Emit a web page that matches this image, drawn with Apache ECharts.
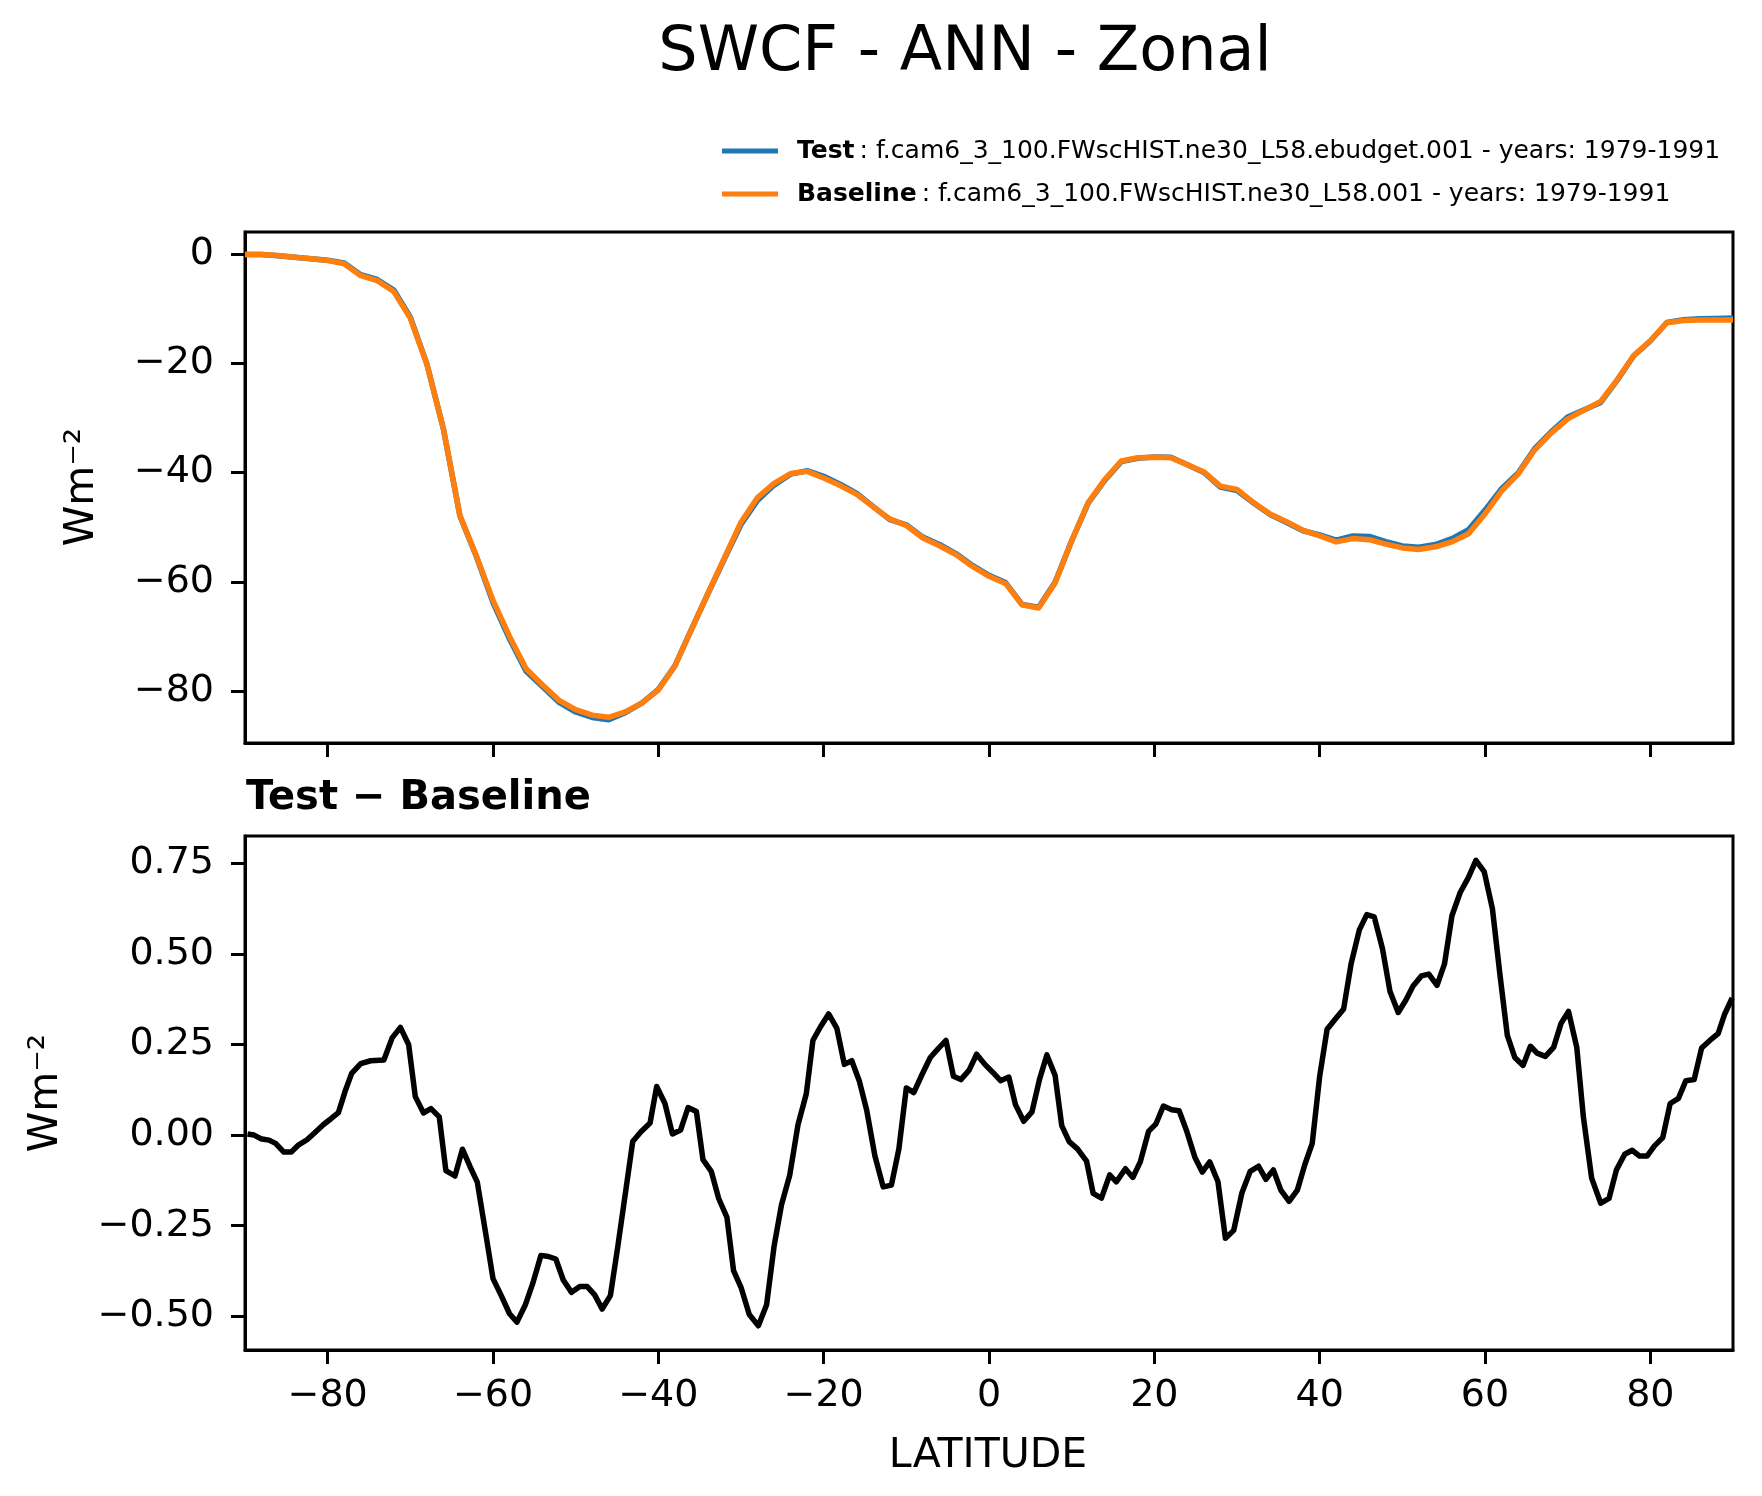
<!DOCTYPE html>
<html>
<head>
<meta charset="utf-8">
<title>SWCF - ANN - Zonal</title>
<script src="https://cdn.jsdelivr.net/npm/echarts@6.0.0/dist/echarts.min.js"></script>
<style>
html, body { margin: 0; padding: 0; background: #fff; }
#main { width: 1762px; height: 1496px; }
</style>
</head>
<body>
<div id="main"></div>
<script>
// 刻度
var xTicks = [-80, -60, -40, -20, 0, 20, 40, 60, 80];
var zonalTicks = [-80, -60, -40, -20, 0];
var diffTicks = [-0.5, -0.25, 0, 0.25, 0.5, 0.75];

// 上图: 纬向平均 (2度)
var zonalLat = [-90, -88, -86, -84, -82, -80, -78, -76, -74, -72, -70, -68, -66, -64, -62, -60,
    -58, -56, -54, -52, -50, -48, -46, -44, -42, -40, -38, -36, -34, -32, -30, -28, -26, -24,
    -22, -20, -18, -16, -14, -12, -10, -8, -6, -4, -2, 0, 2, 4, 6, 8, 10, 12, 14, 16, 18, 20,
    22, 24, 26, 28, 30, 32, 34, 36, 38, 40, 42, 44, 46, 48, 50, 52, 54, 56, 58, 60, 62, 64,
    66, 68, 70, 72, 74, 76, 78, 80, 82, 84, 86, 88, 90];
var testVal = [-0.1, -0.11, -0.33, -0.64, -0.9, -1.16, -1.68, -3.8, -4.69, -6.62, -11.58, -20.13,
    -32.05, -47.97, -55.42, -63.8, -70.49, -76.36, -79.23, -82.07, -83.83, -84.83, -85.25, -83.95,
    -82.19, -79.68, -75.39, -68.73, -62.19, -55.81, -49.52, -45.12, -42.31, -40.3, -39.68, -40.7,
    -42.15, -43.82, -46.27, -48.64, -49.57, -51.83, -53.16, -54.84, -57.0, -58.82, -60.14, -64.16,
    -64.65, -60.04, -52.52, -45.6, -41.45, -38.01, -37.39, -37.17, -37.23, -38.6, -40.0, -42.68,
    -43.32, -45.59, -47.7, -49.17, -50.67, -51.44, -52.38, -51.61, -51.7, -52.65, -53.45, -53.67,
    -53.18, -52.1, -50.49, -46.88, -42.99, -40.1, -35.66, -32.57, -29.86, -28.53, -27.19, -23.1,
    -18.64, -15.95, -12.56, -12.06, -11.88, -11.82, -11.72];
var baseVal = [-0.1, -0.1, -0.3, -0.6, -0.9, -1.2, -1.8, -4.0, -4.9, -6.9, -11.8, -20.2,
    -32.0, -47.9, -55.3, -63.4, -70.0, -75.9, -78.9, -81.7, -83.4, -84.4, -84.8, -83.8,
    -82.2, -79.8, -75.4, -68.8, -62.1, -55.6, -49.1, -44.6, -42.0, -40.2, -39.8, -41.0,
    -42.4, -44.0, -46.3, -48.5, -49.7, -52.0, -53.4, -55.0, -57.2, -59.0, -60.3, -64.2,
    -64.8, -60.2, -52.5, -45.5, -41.3, -37.9, -37.3, -37.2, -37.3, -38.6, -39.9, -42.5,
    -43.1, -45.5, -47.6, -49.0, -50.6, -51.6, -52.7, -52.1, -52.3, -53.1, -53.8, -54.1,
    -53.6, -52.7, -51.2, -47.6, -43.4, -40.3, -35.9, -32.8, -30.2, -28.6, -27.0, -23.0,
    -18.6, -15.9, -12.6, -12.2, -12.1, -12.1, -12.1];

// 下图: Test - Baseline
var diffLat = [-89.7, -88.9, -88.1, -87.1, -86.3, -85.3, -84.4, -83.5, -82.5, -81.5, -80.5, -79.6,
    -78.7, -77.9, -77.1, -76.0, -74.8, -73.2, -72.2, -71.2, -70.2, -69.4, -68.4, -67.5, -66.5,
    -65.7, -64.6, -63.7, -62.8, -61.9, -60.8, -60.0, -59.0, -58.0, -57.1, -56.1, -55.2, -54.2,
    -53.3, -52.4, -51.5, -50.5, -49.5, -48.6, -47.7, -46.8, -45.8, -44.9, -43.9, -43.1, -42.1,
    -41.0, -40.2, -39.2, -38.3, -37.3, -36.4, -35.4, -34.6, -33.6, -32.7, -31.7, -30.9, -30.0,
    -29.0, -27.9, -26.9, -26.0, -25.1, -24.1, -23.1, -22.1, -21.3, -20.4, -19.4, -18.4, -17.5,
    -16.6, -15.7, -14.8, -13.8, -12.8, -11.8, -10.9, -10.0, -9.1, -8.1, -7.1, -6.2, -5.2, -4.3,
    -3.4, -2.4, -1.5, -0.5, 0.5, 1.4, 2.4, 3.2, 4.2, 5.2, 6.1, 7.0, 8.0, 8.8, 9.7, 10.7, 11.8,
    12.6, 13.6, 14.6, 15.4, 16.5, 17.4, 18.3, 19.3, 20.2, 21.1, 22.1, 23.0, 23.9, 24.9, 25.8,
    26.7, 27.7, 28.6, 29.6, 30.6, 31.6, 32.6, 33.5, 34.4, 35.3, 36.3, 37.3, 38.2, 39.1, 40.0,
    40.9, 41.9, 42.9, 43.8, 44.8, 45.7, 46.6, 47.6, 48.5, 49.5, 50.4, 51.3, 52.3, 53.2, 54.2,
    55.1, 56.0, 57.0, 58.0, 58.9, 59.9, 60.9, 61.8, 62.7, 63.6, 64.6, 65.5, 66.3, 67.3, 68.3,
    69.2, 70.1, 71.1, 71.9, 72.9, 74.0, 75.0, 75.9, 76.9, 77.8, 78.7, 79.6, 80.5, 81.5, 82.4,
    83.4, 84.3, 85.3, 86.2, 87.2, 88.2, 89.0, 89.9];
var diffVal = [0.003, 0.0, -0.01, -0.014, -0.023, -0.047, -0.047, -0.027, -0.013, 0.008, 0.029, 0.045,
    0.062, 0.12, 0.17, 0.197, 0.205, 0.207, 0.268, 0.297, 0.249, 0.106, 0.061, 0.073, 0.05,
    -0.098, -0.113, -0.039, -0.086, -0.13, -0.283, -0.396, -0.443, -0.493, -0.516, -0.469, -0.41, -0.332,
    -0.335, -0.342, -0.40, -0.434, -0.418, -0.418, -0.441, -0.48, -0.443, -0.307, -0.147, -0.018, 0.009,
    0.033, 0.134, 0.087, 0.003, 0.014, 0.076, 0.065, -0.068, -0.10, -0.175, -0.227, -0.374, -0.42,
    -0.495, -0.526, -0.468, -0.307, -0.192, -0.11, 0.029, 0.114, 0.261, 0.298, 0.334, 0.294, 0.195,
    0.205, 0.15, 0.069, -0.058, -0.143, -0.138, -0.038, 0.13, 0.117, 0.167, 0.214, 0.237, 0.261, 0.162,
    0.153, 0.179, 0.223, 0.195, 0.172, 0.15, 0.16, 0.084, 0.038, 0.064, 0.153, 0.221, 0.164, 0.026, -0.018, -0.038, -0.072,
    -0.161, -0.174, -0.11, -0.129, -0.093, -0.117, -0.074, 0.01, 0.031, 0.08, 0.07, 0.067, 0.012, -0.061, -0.102,
    -0.074, -0.129, -0.285, -0.263, -0.159, -0.10, -0.086, -0.122, -0.096, -0.152, -0.183, -0.152, -0.082, -0.023, 0.162,
    0.292, 0.32, 0.348, 0.472, 0.566, 0.608, 0.602, 0.514, 0.397, 0.338, 0.371, 0.411, 0.439, 0.444, 0.413,
    0.472, 0.605, 0.669, 0.711, 0.758, 0.727, 0.624, 0.444, 0.275, 0.214, 0.192, 0.245, 0.226, 0.217, 0.242,
    0.308, 0.341, 0.242, 0.05, -0.119, -0.188, -0.175, -0.096, -0.053, -0.042, -0.058, -0.058, -0.03, -0.007, 0.087,
    0.101, 0.15, 0.153, 0.24, 0.261, 0.28, 0.334, 0.378];

var testLabel = 'f.cam6_3_100.FWscHIST.ne30_L58.ebudget.001 - years: 1979-1991';
var baseLabel = 'f.cam6_3_100.FWscHIST.ne30_L58.001 - years: 1979-1991';

var FONT = '"DejaVu Sans", sans-serif';

initChart();

function initChart() {
    var myChart = echarts.init(document.getElementById('main'), null, {renderer: 'canvas'});
    myChart.setOption(buildOption());
}

function pairs(xs, ys) {
    var out = [];
    for (var i = 0; i < xs.length; i++) {
        out.push([xs[i], ys[i]]);
    }
    return out;
}

function minus(v) {
    return String(v).replace('-', '\u2212');
}

// 坐标轴公共样式
function xAxisOf(gridIndex, showLabel) {
    return {
        type: 'value',
        gridIndex: gridIndex,
        min: -90,
        max: 90,
        axisLine: {show: true, onZero: false, lineStyle: {color: '#000', width: 3}},
        axisTick: {show: true, customValues: xTicks, length: 14, lineStyle: {color: '#000', width: 3}},
        axisLabel: {
            show: showLabel,
            customValues: xTicks,
            margin: 27,
            color: '#000',
            fontSize: 38,
            fontFamily: FONT,
            formatter: function (v) { return minus(v); }
        },
        splitLine: {show: false}
    };
}

function yAxisOf(gridIndex, min, max, ticks, fmt) {
    return {
        type: 'value',
        gridIndex: gridIndex,
        min: min,
        max: max,
        axisLine: {show: true, onZero: false, lineStyle: {color: '#000', width: 3}},
        axisTick: {show: true, customValues: ticks, length: 14, lineStyle: {color: '#000', width: 3}},
        axisLabel: {
            customValues: ticks,
            margin: 31,
            color: '#000',
            fontSize: 38,
            fontFamily: FONT,
            formatter: fmt
        },
        splitLine: {show: false}
    };
}

function legendOf(name, top, text) {
    return {
        data: [name],
        left: 722,
        top: top,
        orient: 'vertical',
        padding: 0,
        icon: 'rect',
        itemWidth: 56,
        itemHeight: 5,
        selectedMode: false,
        formatter: function () { return '{g|}{b|' + name + '}\u2009: ' + text; },
        textStyle: {
            color: '#000',
            fontSize: 25,
            lineHeight: 30,
            fontFamily: FONT,
            rich: {
                g: {width: 14},
                b: {fontWeight: 'bold', fontSize: 25, lineHeight: 30, fontFamily: FONT, color: '#000'}
            }
        }
    };
}

function buildOption() {
    return {
        animation: false,
        backgroundColor: '#fff',
        grid: [
            {left: 245, top: 232, width: 1488, height: 511, show: true, borderColor: '#000', borderWidth: 3},
            {left: 245, top: 836, width: 1488, height: 514, show: true, borderColor: '#000', borderWidth: 3}
        ],
        legend: [
            legendOf('Test', 136, testLabel),
            legendOf('Baseline', 179, baseLabel)
        ],
        xAxis: [xAxisOf(0, false), xAxisOf(1, true)],
        yAxis: [
            yAxisOf(0, -89.5, 4, zonalTicks, function (v) { return minus(v); }),
            yAxisOf(1, -0.593, 0.825, diffTicks, function (v) { return minus(v.toFixed(2)); })
        ],
        graphic: [
            {type: 'text', x: 965, y: 54, style: {text: 'SWCF - ANN - Zonal', font: '62px ' + FONT, fill: '#000', textAlign: 'center', textVerticalAlign: 'middle'}},
            {type: 'text', x: 246, y: 799, style: {text: 'Test \u2212 Baseline', font: 'bold 40px ' + FONT, fill: '#000', textAlign: 'left', textVerticalAlign: 'middle'}},
            {type: 'text', x: 988, y: 1456, style: {text: 'LATITUDE', font: '41px ' + FONT, fill: '#000', textAlign: 'center', textVerticalAlign: 'middle'}},
            {type: 'text', x: 82, y: 487, rotation: Math.PI / 2, style: {text: 'Wm\u207B\u00B2', font: '41px ' + FONT, fill: '#000', textAlign: 'center', textVerticalAlign: 'middle'}},
            {type: 'text', x: 46, y: 1093, rotation: Math.PI / 2, style: {text: 'Wm\u207B\u00B2', font: '41px ' + FONT, fill: '#000', textAlign: 'center', textVerticalAlign: 'middle'}}
        ],
        series: [
            {
                name: 'Test',
                type: 'line',
                xAxisIndex: 0,
                yAxisIndex: 0,
                data: pairs(zonalLat, testVal),
                showSymbol: false,
                symbol: 'none',
                lineStyle: {color: '#1f77b4', width: 5.5, join: 'round'},
                itemStyle: {color: '#1f77b4'}
            },
            {
                name: 'Baseline',
                type: 'line',
                xAxisIndex: 0,
                yAxisIndex: 0,
                data: pairs(zonalLat, baseVal),
                showSymbol: false,
                symbol: 'none',
                lineStyle: {color: '#ff7f0e', width: 5.5, join: 'round'},
                itemStyle: {color: '#ff7f0e'}
            },
            {
                name: 'Test - Baseline',
                type: 'line',
                xAxisIndex: 1,
                yAxisIndex: 1,
                data: pairs(diffLat, diffVal),
                showSymbol: false,
                symbol: 'none',
                lineStyle: {color: '#000', width: 5.5, join: 'round'},
                itemStyle: {color: '#000'}
            }
        ]
    };
}
</script>
</body>
</html>
